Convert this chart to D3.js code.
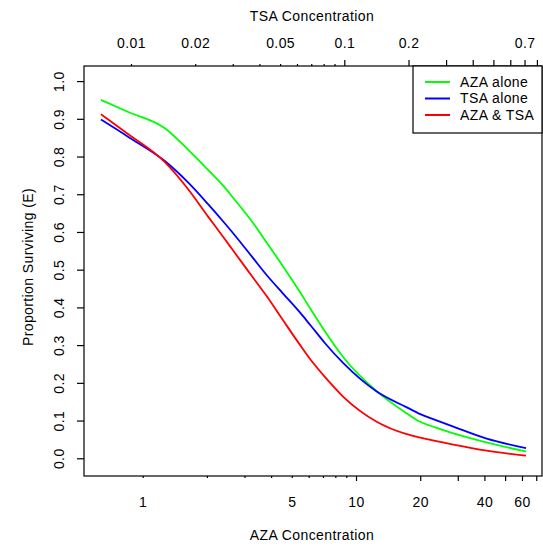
<!DOCTYPE html>
<html>
<head>
<meta charset="utf-8">
<script src="https://cdn.jsdelivr.net/npm/d3@7/dist/d3.min.js"></script>
<style>
  html, body { margin: 0; padding: 0; background: #fff; }
  svg { display: block; }
  text { font-family: "Liberation Sans", Arial, sans-serif; fill: #000; letter-spacing: 0.4px; }
</style>
</head>
<body>
<svg id="chart" width="543" height="546"></svg>
<script>
// ---- data ----
const azaConc = [0.637, 0.856, 1.27, 1.64, 2.03, 2.39, 2.66, 3.30, 3.81, 4.56, 5.47, 6.09, 7.16, 8.72, 12.5, 17.3, 20.0, 23.5, 28.6, 41.0, 62.7];
const azaAlone = [0.950, 0.918, 0.875, 0.817, 0.764, 0.722, 0.690, 0.623, 0.572, 0.508, 0.440, 0.398, 0.336, 0.268, 0.178, 0.119, 0.097, 0.082, 0.066, 0.042, 0.018];
const tsaAlone = [0.898, 0.852, 0.788, 0.730, 0.673, 0.627, 0.596, 0.530, 0.486, 0.436, 0.386, 0.354, 0.305, 0.252, 0.177, 0.135, 0.117, 0.102, 0.084, 0.052, 0.027];
const azaTsa   = [0.912, 0.859, 0.785, 0.712, 0.640, 0.586, 0.550, 0.478, 0.430, 0.365, 0.300, 0.263, 0.215, 0.163, 0.097, 0.064, 0.055, 0.046, 0.036, 0.020, 0.007];
const seriesNames = ["AZA alone", "TSA alone", "AZA & TSA"];
const seriesColors = ["#00ff00", "#0000ff", "#ff0000"];
const tsaPerAza = 0.011347; // TSA concentration paired with each AZA concentration

const bottomTicks = [1,2,3,4,5,6,7,8,9,10,20,30,40,50,60,70];
const bottomLabels = [1,5,10,20,40,60];
const topTicks = [0.01,0.02,0.03,0.04,0.05,0.06,0.07,0.08,0.09,0.1,0.2,0.3,0.4,0.5,0.6,0.7,0.8];
const topLabels = [0.01,0.02,0.05,0.1,0.2,0.7];
const yTicks = [0,0.1,0.2,0.3,0.4,0.5,0.6,0.7,0.8,0.9,1.0];

// ---- layout ----
const L = 84, R = 542, T = 66, B = 476;
const FS = "14px";
const svg = d3.select("#chart");

const xDomain = [0.5306, 74.47];
const x = d3.scaleLog().domain(xDomain).range([L, R]);
const xTop = d3.scaleLog().domain(xDomain.map(v => v * tsaPerAza)).range([L, R]);
const y = d3.scaleLinear().domain([-0.047, 1.04]).range([B, T]);

// frame
svg.append("rect").attr("x", L).attr("y", T).attr("width", R - L).attr("height", B - T)
  .attr("fill", "none").attr("stroke", "#000").attr("stroke-width", 1.2);

// bottom axis
const gB = svg.append("g").attr("transform", `translate(0,${B})`)
  .call(d3.axisBottom(x).tickValues(bottomTicks)
    .tickFormat(d => bottomLabels.includes(d) ? String(d) : "").tickSizeOuter(0));
gB.select(".domain").remove();
gB.selectAll(".tick line").attr("y2", d => d >= 10 ? 5 : 2).attr("stroke-width", 1.2);
gB.selectAll(".tick text").attr("y", 26).attr("dy", "0.35em")
  .style("font-size", FS).style("font-family", "Liberation Sans, Arial, sans-serif");

// top axis
const gT = svg.append("g").attr("transform", `translate(0,${T})`)
  .call(d3.axisTop(xTop).tickValues(topTicks)
    .tickFormat(d => topLabels.includes(d) ? String(d) : "").tickSizeOuter(0));
gT.select(".domain").remove();
gT.selectAll(".tick line").attr("y2", d => d >= 0.1 ? -6 : -2).attr("stroke-width", 1.2);
gT.selectAll(".tick text").attr("y", -23).attr("dy", "0.35em")
  .style("font-size", FS).style("font-family", "Liberation Sans, Arial, sans-serif");

// left axis
const gL = svg.append("g").attr("transform", `translate(${L},0)`)
  .call(d3.axisLeft(y).tickValues(yTicks).tickFormat(d3.format(".1f")).tickSize(7).tickSizeOuter(0));
gL.select(".domain").remove();
gL.selectAll(".tick line").attr("stroke-width", 1.2);
gL.selectAll(".tick text")
  .attr("x", null)
  .attr("text-anchor", "middle")
  .attr("transform", "translate(-25,0) rotate(-90)")
  .attr("dy", "0.35em")
  .style("font-size", FS).style("font-family", "Liberation Sans, Arial, sans-serif");

// axis titles
svg.append("text").attr("x", (L + R) / 2 - 1).attr("y", 16).attr("dy", "0.35em")
  .attr("text-anchor", "middle").style("font-size", FS).text("TSA Concentration");
svg.append("text").attr("x", (L + R) / 2 - 1).attr("y", 535).attr("dy", "0.35em")
  .attr("text-anchor", "middle").style("font-size", FS).text("AZA Concentration");
svg.append("text").attr("transform", `translate(28,${(T + B) / 2 - 4}) rotate(-90)`).attr("dy", "0.35em")
  .attr("text-anchor", "middle").style("font-size", FS).text("Proportion Surviving (E)");

// lines
const allSeries = [azaAlone, tsaAlone, azaTsa];
const line = d3.line().x(d => x(d[0])).y(d => y(d[1])).curve(d3.curveMonotoneX);
allSeries.forEach((vals, i) => {
  svg.append("path")
    .datum(azaConc.map((c, j) => [c, vals[j]]))
    .attr("fill", "none").attr("stroke", seriesColors[i]).attr("stroke-width", 1.8)
    .attr("d", line);
});

// legend
const lg = svg.append("g");
lg.append("rect").attr("x", 413).attr("y", T).attr("width", R - 413).attr("height", 67)
  .attr("fill", "#fff").attr("stroke", "#000").attr("stroke-width", 1.2);
seriesNames.forEach((name, i) => {
  const yy = 82 + i * 16.5;
  lg.append("line").attr("x1", 425).attr("x2", 450).attr("y1", yy).attr("y2", yy)
    .attr("stroke", seriesColors[i]).attr("stroke-width", 2);
  lg.append("text").attr("x", 460).attr("y", yy).attr("dy", "0.35em")
    .style("font-size", FS).text(name);
});
</script>
</body>
</html>
